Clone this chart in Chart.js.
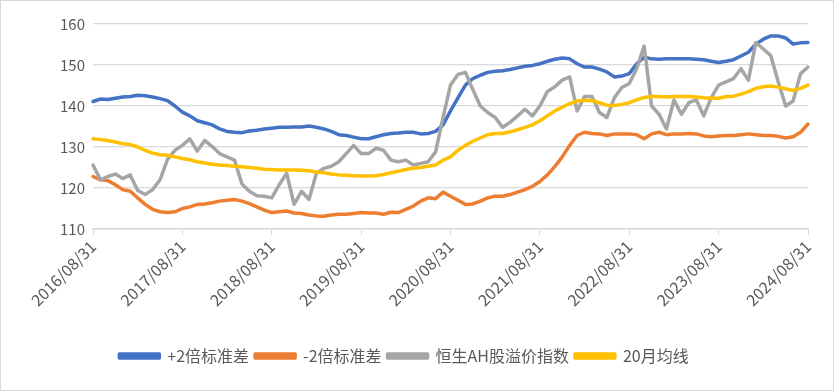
<!DOCTYPE html>
<html>
<head>
<meta charset="utf-8">
<script src="https://cdn.jsdelivr.net/npm/chart.js@4.4.1/dist/chart.umd.min.js"></script>
<style>
  html, body { margin: 0; padding: 0; background: #fff; }
  #wrap { width: 834px; height: 391px; }
</style>
</head>
<body>
<div id="wrap"><canvas id="c" width="834" height="391"></canvas></div>
<script>
// monthly, 2016/08/31 .. 2024/08/31
const tickLabels = ['2016/08/31','2017/08/31','2018/08/31','2019/08/31','2020/08/31',
                    '2021/08/31','2022/08/31','2023/08/31','2024/08/31'];

const months = [];
for (let y = 2016, m = 8; y < 2024 || (y === 2024 && m <= 8);) {
  const last = new Date(y, m, 0).getDate();
  months.push(y + '/' + String(m).padStart(2, '0') + '/' + last);
  m++; if (m > 12) { m = 1; y++; }
}

const upper2sd = [
  141.1,141.7,141.6,141.9,142.2,142.3,142.6,142.5,142.2,141.8,141.3,140.0,
  138.5,137.6,136.4,135.9,135.4,134.4,133.8,133.6,133.5,133.9,134.1,134.4,
  134.6,134.8,134.8,134.9,134.9,135.1,134.8,134.4,133.8,133.0,132.8,132.4,
  132.0,132.0,132.5,133.0,133.3,133.4,133.6,133.6,133.2,133.3,133.8,135.4,
  138.8,142.0,145.1,146.7,147.5,148.2,148.5,148.6,148.9,149.3,149.7,149.9,
  150.3,150.9,151.4,151.7,151.5,150.3,149.5,149.5,149.0,148.3,147.1,147.3,
  147.9,150.3,151.9,151.5,151.4,151.5,151.5,151.5,151.5,151.4,151.3,150.9,
  150.6,150.9,151.3,152.2,153.1,155.1,156.3,157.1,157.1,156.6,155.1,155.4,
  155.5
];
const lower2sd = [
  122.8,122.0,121.8,120.8,119.6,119.2,117.6,116.0,114.8,114.2,114.0,114.2,
  115.0,115.4,116.0,116.1,116.4,116.8,117.0,117.2,116.8,116.2,115.4,114.6,
  114.0,114.2,114.4,113.9,113.8,113.4,113.2,113.1,113.4,113.6,113.6,113.8,
  114.0,113.9,113.9,113.6,114.1,114.0,114.8,115.6,116.8,117.6,117.4,119.0,
  118.0,117.0,116.0,116.1,116.8,117.6,118.0,118.0,118.4,119.0,119.6,120.4,
  121.6,123.2,125.2,127.6,130.4,132.8,133.6,133.3,133.2,132.8,133.2,133.2,
  133.2,133.0,132.0,133.2,133.6,133.0,133.2,133.2,133.3,133.2,132.7,132.5,
  132.7,132.8,132.8,133.0,133.2,133.0,132.8,132.8,132.6,132.2,132.5,133.6,
  135.6
];
const ahPremium = [
  125.6,122.0,122.8,123.4,122.3,123.2,119.4,118.4,119.6,122.0,127.0,129.2,
  130.4,132.0,129.0,131.6,130.1,128.4,127.6,126.8,121.0,119.2,118.1,118.0,
  117.6,120.8,123.6,116.0,119.2,117.2,123.6,124.8,125.3,126.4,128.4,130.4,
  128.4,128.4,129.7,129.2,126.8,126.4,126.8,125.6,126.0,126.4,128.8,137.2,
  145.1,147.7,148.2,144.0,140.0,138.4,137.2,134.8,136.0,137.6,139.2,137.6,
  140.0,143.5,144.7,146.3,147.1,138.8,142.3,142.3,138.4,137.2,142.0,144.5,
  145.5,149.1,154.6,140.0,138.0,134.4,141.5,138.0,140.8,141.5,137.6,142.0,
  145.1,145.9,146.7,149.1,146.3,155.5,153.9,152.3,145.9,140.0,141.2,147.9,
  149.5
];
const ma20 = [
  132.0,131.8,131.6,131.2,130.8,130.6,130.0,129.2,128.5,128.1,128.0,127.6,
  127.2,126.9,126.4,126.1,125.8,125.6,125.5,125.3,125.2,125.0,124.8,124.6,
  124.5,124.4,124.4,124.4,124.3,124.2,123.9,123.7,123.4,123.2,123.1,123.0,
  122.9,122.9,123.0,123.3,123.7,124.1,124.5,124.8,125.0,125.3,125.6,126.8,
  127.6,129.2,130.4,131.4,132.2,133.0,133.3,133.3,133.7,134.2,134.8,135.4,
  136.4,137.6,138.8,139.7,140.6,141.2,141.4,141.3,140.8,140.2,140.1,140.4,
  140.8,141.5,142.1,142.3,142.3,142.2,142.3,142.3,142.3,142.2,142.0,141.9,
  141.9,142.3,142.4,142.9,143.5,144.3,144.7,144.9,144.6,144.2,143.8,144.3,
  145.1
];

const FONT = '"Noto Sans CJK SC", "Liberation Sans", sans-serif';
const GRID = '#d9d9d9';

function line(label, data, color, order) {
  return { label, data, borderColor: color, backgroundColor: color, borderWidth: 3.5,
           pointRadius: 0, tension: 0, borderJoinStyle: 'round', borderCapStyle: 'round', order };
}

const framePlugin = {
  id: 'frame',
  beforeDraw(chart) {
    const c = chart.ctx;
    c.save();
    c.fillStyle = '#fff';
    c.fillRect(0, 0, chart.width, chart.height);
    c.strokeStyle = GRID;
    c.lineWidth = 1;
    c.strokeRect(0.5, 0.5, chart.width - 1, chart.height - 1);
    c.restore();
  }
};

new Chart(document.getElementById('c'), {
  type: 'line',
  data: {
    labels: months,
    datasets: [
      line('+2倍标准差', upper2sd, '#4472C4', 4),
      line('-2倍标准差', lower2sd, '#ED7D31', 3),
      line('恒生AH股溢价指数', ahPremium, '#A5A5A5', 2),
      line('20月均线', ma20, '#FFC000', 1)
    ]
  },
  options: {
    responsive: false,
    animation: false,
    layout: { padding: { left: 0, right: 26, top: 24, bottom: 17 } },
    plugins: {
      tooltip: { enabled: false },
      legend: {
        position: 'bottom',
        labels: {
          boxWidth: 40, boxHeight: 4, padding: 6, color: '#595959',
          font: { family: FONT, size: 16 },
          sort: (a, b) => a.datasetIndex - b.datasetIndex
        }
      }
    },
    scales: {
      x: {
        afterFit: s => { s.height = 113; },
        border: { color: GRID, width: 1.5 },
        grid: {
          drawOnChartArea: false, tickLength: 6,
          color: ctx => (ctx.tick && tickLabels.includes(months[ctx.index])) ? GRID : 'rgba(0,0,0,0)'
        },
        ticks: {
          autoSkip: false, minRotation: 45, maxRotation: 45, padding: 2,
          color: '#595959', font: { family: FONT, size: 16 },
          callback: (v, i) => tickLabels.includes(months[i]) ? months[i] : ''
        }
      },
      y: {
        min: 110, max: 160,
        afterFit: s => { s.width = 93; },
        border: { display: false },
        grid: { color: GRID, lineWidth: 1.2, drawTicks: false },
        ticks: { stepSize: 5, padding: 8, color: '#595959', font: { family: FONT, size: 15 } }
      }
    }
  },
  plugins: [framePlugin]
});
</script>
</body>
</html>
